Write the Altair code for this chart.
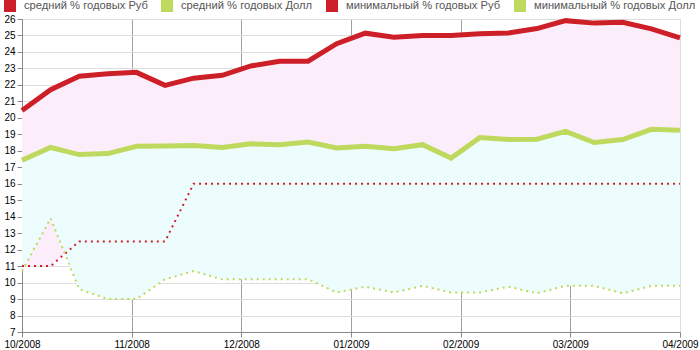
import json
import altair as alt
import pandas as pd

# ---- data ----
x_labels = ["10/2008", "11/2008", "12/2008", "01/2009", "02/2009", "03/2009", "04/2009"]
series_names = ["средний % годовых Руб", "средний % годовых Долл",
                "минимальный % годовых Руб", "минимальный % годовых Долл"]

red_avg = [20.45, 21.71, 22.53, 22.68, 22.76, 21.97, 22.41, 22.58, 23.15, 23.44, 23.44, 24.5,
           25.14, 24.9, 25.0, 25.0, 25.1, 25.15, 25.42, 25.9, 25.75, 25.8, 25.4, 24.85]
green_avg = [17.42, 18.2, 17.77, 17.83, 18.27, 18.29, 18.32, 18.2, 18.42, 18.37, 18.53, 18.17,
             18.27, 18.13, 18.37, 17.56, 18.8, 18.68, 18.7, 19.18, 18.5, 18.68, 19.3, 19.24]
red_min = [11, 11, 12.5, 12.5, 12.5, 12.5, 16, 16, 16, 16, 16, 16,
           16, 16, 16, 16, 16, 16, 16, 16, 16, 16, 16, 16]
green_min = [10.7, 13.9, 9.6, 9.0, 9.0, 10.2, 10.7, 10.2, 10.2, 10.2, 10.2, 9.4,
             9.75, 9.4, 9.8, 9.4, 9.4, 9.75, 9.35, 9.8, 9.8, 9.35, 9.8, 9.8]
y_ticks = list(range(7, 27))

# ---- styles ----
RED = "#cd1f28"
GREEN = "#bed95e"
PINK = "#fcedfb"
CYAN = "#edfdfd"
GRID = "#a0a0a0"
AXIS = "#999999"
TEXT = "#555555"
FONT = "Liberation Sans"

n = len(red_avg)
idx = list(range(n))
wide = pd.DataFrame({"i": idx, "ra": red_avg, "ga": green_avg, "rm": red_min, "gm": green_min})
long = pd.DataFrame({
    "i": idx * 4,
    "v": red_avg + green_avg + red_min + green_min,
    "s": sum([[s] * n for s in series_names], []),
})

last = n - 1
k = len(x_labels) - 1
tick_vals = [j * last / k for j in range(len(x_labels))]
label_expr = json.dumps(x_labels, ensure_ascii=False) + f"[round(datum.value*{k}/{last})]"

x_scale = alt.Scale(domain=[0, last], nice=False, zero=False)
y_scale = alt.Scale(domain=[7, 26], nice=False, zero=False)
x_axis = alt.Axis(values=tick_vals, labelExpr=label_expr, title=None, grid=True,
                  gridColor={"condition": {"test": f"datum.value > 0.01 && datum.value < {last - 0.01}",
                                           "value": GRID}, "value": "transparent"},
                  labelFlush=False)
y_axis = alt.Axis(values=y_ticks, title=None, grid=True)


def X():
    return alt.X("i:Q", scale=x_scale, axis=x_axis)


def Y(field):
    return alt.Y(f"{field}:Q", scale=y_scale, axis=y_axis)


base = alt.Chart(wide)

pink_band = base.mark_area(color=PINK, opacity=1).encode(x=X(), y=Y("ra"), y2="rm:Q")
cyan_band = base.mark_area(color=CYAN, opacity=1).encode(x=X(), y=Y("ga"), y2="gm:Q")

line_ra = base.mark_line(color=RED, strokeWidth=5).encode(x=X(), y=Y("ra"))
line_ga = base.mark_line(color=GREEN, strokeWidth=5).encode(x=X(), y=Y("ga"))
line_rm = base.mark_line(color=RED, strokeWidth=2, strokeDash=[2, 4]).encode(x=X(), y=Y("rm"))
line_gm = base.mark_line(color=GREEN, strokeWidth=2, strokeDash=[2, 4]).encode(x=X(), y=Y("gm"))

legend_layer = alt.Chart(long).mark_square(opacity=0, size=1).encode(
    x=X(), y=Y("v"),
    fill=alt.Fill("s:N",
                  scale=alt.Scale(domain=series_names, range=[RED, GREEN, RED, GREEN]),
                  legend=alt.Legend(orient="none", legendX=-18, legendY=-19, direction="horizontal",
                                    title=None, symbolType="square", symbolSize=144,
                                    symbolStrokeWidth=0, symbolOpacity=1,
                                    labelFont=FONT, labelFontSize=11.2, labelColor=TEXT,
                                    labelLimit=400, labelOffset=8, columnPadding=13, padding=0)),
)

chart = alt.layer(pink_band, cyan_band, line_ra, line_ga, line_rm, line_gm, legend_layer).properties(
    width=658, height=313,
    padding={"left": 22, "top": 19, "right": 20, "bottom": 18},
    autosize=alt.AutoSizeParams(type="none"),
).configure_view(stroke=None).configure_axis(
    domainColor=AXIS, tickColor=AXIS, tickSize=4,
    gridColor=GRID, gridDash=[5, 4], gridWidth=1,
    labelFont=FONT, labelFontSize=11, labelColor=TEXT, labelPadding=2,
).configure(background="white")

chart.save("out.html", embed_options={"renderer": "svg", "actions": False})
